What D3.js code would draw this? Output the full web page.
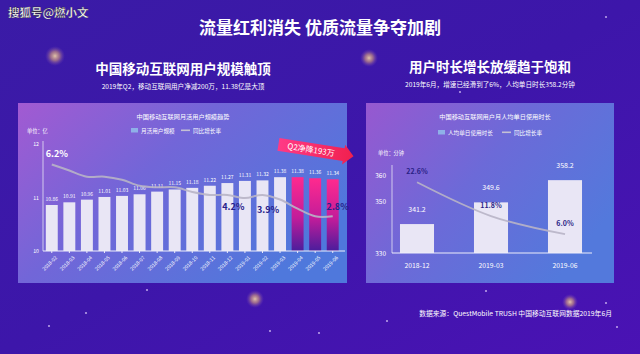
<!DOCTYPE html>
<meta charset="utf-8">
<script src="https://d3js.org/d3.v7.min.js"></script>
<style>
  body { margin: 0; background: #3a17a8; }
  text { font-family: "Noto Sans CJK SC", "Noto Sans", sans-serif; }
</style>
<div id="chart"></div>
<script>
  // left chart: monthly active users (亿) and yoy growth (%)
  var months = ["2018-02","2018-03","2018-04","2018-05","2018-06","2018-07","2018-08","2018-09","2018-10",
                "2018-11","2018-12","2019-01","2019-02","2019-03","2019-04","2019-05","2019-06"];
  var mau = [10.86, 10.91, 10.96, 11.01, 11.03, 11.06, 11.11, 11.15, 11.18, 11.22, 11.27, 11.31, 11.32, 11.38, 11.38, 11.36, 11.34];
  var mauGrowth = [6.2, 5.8, 5.4, 5.4, 5.2, 4.8, 4.7, 4.7, 4.4, 4.2, 4.2, 4.0, 4.2, 3.9, 3.3, 2.8, 2.8];
  var labelledMonths = ["2018-02", "2018-12", "2019-03", "2019-06"];
  var q2Months = ["2019-04", "2019-05", "2019-06"];
  var mauTicks = [10, 11, 12];

  // right chart: daily minutes per user and yoy growth (%)
  var periods = ["2018-12", "2019-03", "2019-06"];
  var minutes = [341.2, 349.6, 358.2];
  var minuteGrowth = [22.6, 11.8, 6.0];
  var minuteTicks = [330, 350, 360];

  var W = 640, H = 354;
  var svg = d3.select("#chart").append("svg").attr("width", W).attr("height", H);
  var defs = svg.append("defs");

  function linGrad(id, x1, y1, x2, y2, stops) {
    var g = defs.append("linearGradient").attr("id", id)
      .attr("x1", x1).attr("y1", y1).attr("x2", x2).attr("y2", y2);
    stops.forEach(function(s) { g.append("stop").attr("offset", s[0]).attr("stop-color", s[1]); });
  }
  linGrad("bg", "0", "0", "1", "1", [["0", "#3a1ba6"], ["0.5", "#3d16aa"], ["1", "#4a12b4"]]);
  linGrad("panelL", "0", "0", "1", "0.6", [["0", "#a25ad2"], ["0.45", "#7266d8"], ["1", "#4f78dc"]]);
  linGrad("panelR", "0", "0", "1", "0.6", [["0", "#9758d0"], ["0.5", "#6c6ad8"], ["1", "#5379dc"]]);
  linGrad("pinkBar", "0", "0", "0", "1", [["0", "#ff2a8e"], ["0.55", "#c21c9a"], ["1", "#4a1d9c"]]);
  linGrad("arrow", "0", "0", "1", "0", [["0", "#ff3a86"], ["1", "#f0204e"]]);
  var glow = defs.append("radialGradient").attr("id", "glow");
  glow.append("stop").attr("offset", "0").attr("stop-color", "#ffe2a8").attr("stop-opacity", 0.85);
  glow.append("stop").attr("offset", "0.45").attr("stop-color", "#d8a07c").attr("stop-opacity", 0.6);
  glow.append("stop").attr("offset", "1").attr("stop-color", "#7a4ab8").attr("stop-opacity", 0);

  svg.append("rect").attr("width", W).attr("height", H).attr("fill", "url(#bg)");

  // decorative glows and stars
  [[55, 56, 10], [369, 58, 9], [255, 299, 9], [570, 302, 8]].forEach(function(o) {
    svg.append("circle").attr("cx", o[0]).attr("cy", o[1]).attr("r", o[2]).attr("fill", "url(#glow)");
  });
  [[49, 326], [86, 313], [147, 290], [270, 331], [319, 333], [387, 321], [486, 291], [606, 303], [617, 327], [148, 72], [606, 17], [460, 92]].forEach(function(s) {
    svg.append("circle").attr("cx", s[0]).attr("cy", s[1]).attr("r", 1.1).attr("fill", "#e9d8ff").attr("opacity", 0.7);
  });

  // header texts
  svg.append("text").attr("x", 8).attr("y", 17).attr("fill", "#fff").attr("font-size", 11.5)
    .attr("font-weight", "bold").attr("stroke", "#222").attr("stroke-width", 0.3).text("搜狐号@燃小文");
  svg.append("text").attr("x", 320).attr("y", 34).attr("text-anchor", "middle").attr("fill", "#fff")
    .attr("font-size", 17).attr("font-weight", "bold").text("流量红利消失 优质流量争夺加剧");
  svg.append("text").attr("x", 183).attr("y", 74).attr("text-anchor", "middle").attr("fill", "#fff")
    .attr("font-size", 13.5).attr("font-weight", "bold").text("中国移动互联网用户规模触顶");
  svg.append("text").attr("x", 183).attr("y", 89).attr("text-anchor", "middle").attr("fill", "#fff")
    .attr("font-size", 6.6).text("2019年Q2，移动互联网用户净减200万，11.38亿是大顶");
  svg.append("text").attr("x", 490).attr("y", 72).attr("text-anchor", "middle").attr("fill", "#fff")
    .attr("font-size", 13.5).attr("font-weight", "bold").text("用户时长增长放缓趋于饱和");
  svg.append("text").attr("x", 490).attr("y", 87).attr("text-anchor", "middle").attr("fill", "#fff")
    .attr("font-size", 6.6).text("2019年6月，增速已经滑到了6%，人均单日时长358.2分钟");
  svg.append("text").attr("x", 612).attr("y", 316).attr("text-anchor", "end").attr("fill", "#fff")
    .attr("font-size", 6.8).text("数据来源：QuestMobile TRUSH 中国移动互联网数据2019年6月");

  // panels
  svg.append("rect").attr("x", 18).attr("y", 103).attr("width", 329).attr("height", 180).attr("fill", "url(#panelL)");
  svg.append("rect").attr("x", 366).attr("y", 103).attr("width", 248).attr("height", 180).attr("fill", "url(#panelR)");

  function legend(g, x, y, label1, label2, gap) {
    g.append("rect").attr("x", x).attr("y", y - 3).attr("width", 7).attr("height", 4.5).attr("fill", "#8fb0e8");
    g.append("text").attr("x", x + 10).attr("y", y + 1.5).attr("fill", "#fff").attr("font-size", 5.6).text(label1);
    g.append("line").attr("x1", x + gap).attr("x2", x + gap + 9).attr("y1", y - 0.7).attr("y2", y - 0.7)
      .attr("stroke", "#c4c0d4").attr("stroke-width", 1.6);
    g.append("text").attr("x", x + gap + 12).attr("y", y + 1.5).attr("fill", "#fff").attr("font-size", 5.6).text(label2);
  }

  // ---------- left chart ----------
  var L = svg.append("g");
  var x = d3.scaleBand().domain(months).range([43, 341.5]).paddingInner(0.32).paddingOuter(0.16);
  var y = d3.scaleLinear().domain([10, 12]).range([251, 144]);
  var yG = d3.scaleLinear().domain([0, 8]).range([259, 137]);

  L.append("text").attr("x", 183).attr("y", 119).attr("text-anchor", "middle").attr("fill", "#fff")
    .attr("font-size", 6.2).text("中国移动互联网月活用户规模趋势");
  L.append("text").attr("x", 27).attr("y", 133).attr("fill", "#fff").attr("font-size", 5.2).text("单位：亿");
  legend(L, 131, 131, "月活用户规模", "同比增长率", 50);

  L.append("line").attr("x1", 43).attr("x2", 43).attr("y1", 141).attr("y2", 251).attr("stroke", "#e6e4f4").attr("stroke-width", 0.8);
  L.append("g").attr("transform", "translate(43,0)")
    .call(d3.axisLeft(y).tickValues(mauTicks).tickFormat(d3.format("d")).tickSize(0).tickPadding(4))
    .call(function(g) { g.select(".domain").remove(); })
    .selectAll("text").attr("fill", "#fff").attr("font-size", 5.2).attr("font-family", "Noto Sans CJK SC");

  L.selectAll("rect.bar").data(months).enter().append("rect").attr("class", "bar")
    .attr("x", function(d) { return x(d); })
    .attr("y", function(d, i) { return y(mau[i]); })
    .attr("width", x.bandwidth())
    .attr("height", function(d, i) { return 251 - y(mau[i]); })
    .attr("fill", function(d) { return q2Months.indexOf(d) >= 0 ? "url(#pinkBar)" : "#e9e6f5"; });

  L.selectAll("text.val").data(months).enter().append("text").attr("class", "val")
    .attr("x", function(d) { return x(d) + x.bandwidth() / 2; })
    .attr("y", function(d, i) { return y(mau[i]) - 4; })
    .attr("text-anchor", "middle").attr("fill", "#fff").attr("font-size", 5)
    .text(function(d, i) { return mau[i].toFixed(2); });

  var xa = L.append("g").attr("transform", "translate(0,251)")
    .call(d3.axisBottom(x).tickSize(2).tickSizeOuter(0));
  xa.select(".domain").attr("stroke", "#eeeefa").attr("stroke-width", 1.2).attr("d", "M43,0H345");
  xa.selectAll(".tick line").attr("stroke", "#eeeefa");
  xa.selectAll("text").attr("fill", "#fff").attr("font-size", 5).attr("font-family", "Noto Sans CJK SC")
    .attr("text-anchor", "end").attr("dx", "-1").attr("dy", "4").attr("transform", "rotate(-45)");

  var lineL = d3.line()
    .x(function(d, i) { return x(months[i]) + x.bandwidth() / 2; })
    .y(function(d) { return yG(d); })
    .curve(d3.curveCatmullRom);
  L.append("path").datum(mauGrowth).attr("d", lineL).attr("fill", "none")
    .attr("stroke", "#b8b4c6").attr("stroke-width", 2).attr("opacity", 0.9);

  // growth labels: first above in white, the rest in dark blue near the line
  var labelShift = [[5, -7], [6, 15], [-12, 13], [5, -6]];
  L.selectAll("text.g").data(labelledMonths).enter().append("text").attr("class", "g")
    .attr("x", function(d, i) { return x(d) + x.bandwidth() / 2 + labelShift[i][0]; })
    .attr("y", function(d, i) { return yG(mauGrowth[months.indexOf(d)]) + labelShift[i][1]; })
    .attr("text-anchor", "middle").attr("font-size", 9).attr("font-weight", "bold")
    .attr("fill", function(d, i) { return i === 0 ? "#ffffff" : "#27208a"; })
    .text(function(d) { return mauGrowth[months.indexOf(d)].toFixed(1) + "%"; });

  // Q2 arrow banner
  var ab = L.append("g").attr("transform", "translate(314,150) rotate(9)");
  ab.append("path").attr("d", "M-36,-6.5 L30,-6.5 L30,-10 L40,0 L30,10 L30,6.5 L-36,6.5 Z").attr("fill", "url(#arrow)");
  ab.append("text").attr("x", -3).attr("y", 3).attr("text-anchor", "middle").attr("fill", "#fff")
    .attr("font-size", 8).text("Q2净降193万");

  // ---------- right chart ----------
  var R = svg.append("g");
  var xr = d3.scaleBand().domain(periods).range([380, 602]).paddingInner(0.54).paddingOuter(0.27);
  var yr = d3.scaleLinear().domain([330, 360]).range([253, 175.5]);
  var yrG = d3.scaleLinear().domain([0, 30]).range([253, 159]);

  R.append("text").attr("x", 495).attr("y", 119).attr("text-anchor", "middle").attr("fill", "#fff")
    .attr("font-size", 6.2).text("中国移动互联网用户月人均单日使用时长");
  legend(R, 438, 133, "人均单日使用时长", "同比增长率", 64);
  R.append("text").attr("x", 378).attr("y", 155).attr("fill", "#fff").attr("font-size", 5.2).text("单位：分钟");

  R.append("line").attr("x1", 392).attr("x2", 392).attr("y1", 165).attr("y2", 253).attr("stroke", "#e6e4f4").attr("stroke-width", 0.8);
  R.append("g").attr("transform", "translate(392,0)")
    .call(d3.axisLeft(yr).tickValues(minuteTicks).tickSize(0).tickPadding(6))
    .call(function(g) { g.select(".domain").remove(); })
    .selectAll("text").attr("fill", "#fff").attr("font-size", 6.5).attr("font-family", "Noto Sans CJK SC");

  R.selectAll("rect.bar").data(periods).enter().append("rect").attr("class", "bar")
    .attr("x", function(d) { return xr(d); })
    .attr("y", function(d, i) { return yr(minutes[i]); })
    .attr("width", xr.bandwidth())
    .attr("height", function(d, i) { return 253 - yr(minutes[i]); })
    .attr("fill", "#e9e6f5");

  R.selectAll("text.val").data(periods).enter().append("text").attr("class", "val")
    .attr("x", function(d) { return xr(d) + xr.bandwidth() / 2; })
    .attr("y", function(d, i) { return yr(minutes[i]) - 12; })
    .attr("text-anchor", "middle").attr("fill", "#fff").attr("font-size", 7)
    .text(function(d, i) { return minutes[i].toFixed(1); });

  var xra = R.append("g").attr("transform", "translate(0,253)")
    .call(d3.axisBottom(xr).tickSize(0).tickPadding(10));
  xra.select(".domain").attr("stroke", "#eeeefa").attr("stroke-width", 1).attr("d", "M392,0H592");
  xra.selectAll("text").attr("fill", "#fff").attr("font-size", 6.8).attr("font-family", "Noto Sans CJK SC");

  var lineR = d3.line()
    .x(function(d, i) { return xr(periods[i]) + xr.bandwidth() / 2; })
    .y(function(d) { return yrG(d); })
    .curve(d3.curveMonotoneX);
  R.append("path").datum(minuteGrowth).attr("d", lineR).attr("fill", "none")
    .attr("stroke", "#b8b4c6").attr("stroke-width", 1.8).attr("opacity", 0.9);

  R.selectAll("text.g").data(periods).enter().append("text").attr("class", "g")
    .attr("x", function(d) { return xr(d) + xr.bandwidth() / 2; })
    .attr("y", function(d, i) { return yrG(minuteGrowth[i]) - 8; })
    .attr("text-anchor", "middle").attr("font-size", 7).attr("font-weight", "bold").attr("fill", "#2a1f86")
    .text(function(d, i) { return minuteGrowth[i].toFixed(1) + "%"; });
</script>
